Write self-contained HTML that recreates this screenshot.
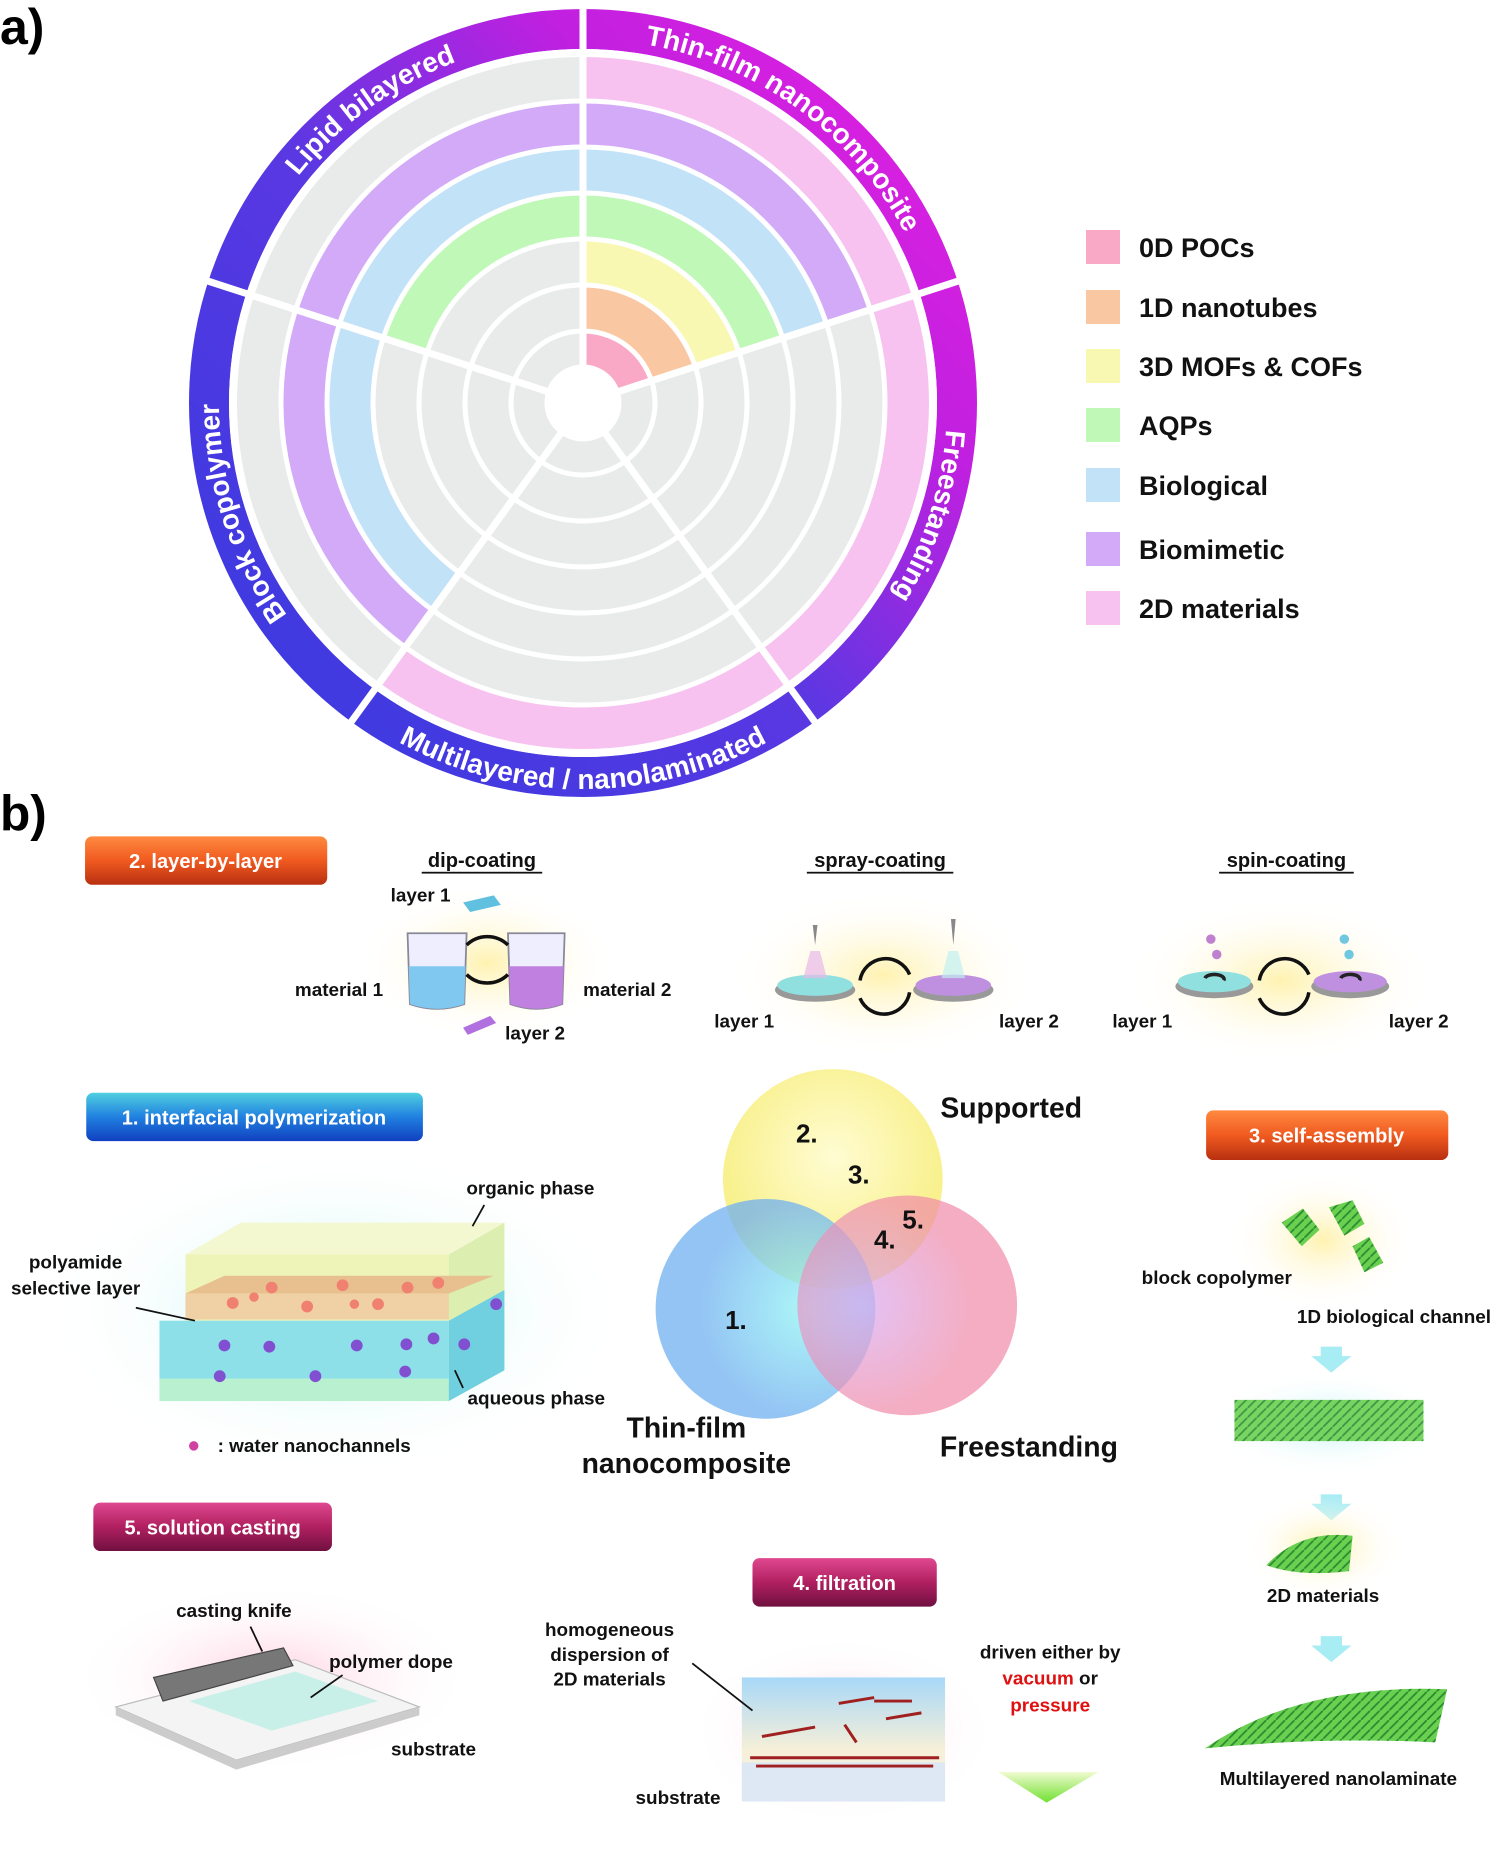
<!DOCTYPE html>
<html><head><meta charset="utf-8"><style>
html,body{margin:0;padding:0;background:#fff}
svg{display:block}
text{font-family:"Liberation Sans",sans-serif;font-weight:bold}
</style></head><body>
<svg width="1500" height="1851" viewBox="0 0 1500 1851" xmlns="http://www.w3.org/2000/svg">
<defs>
<linearGradient id="band" gradientUnits="userSpaceOnUse" x1="250" y1="720" x2="930" y2="90">
<stop offset="0" stop-color="#3a3ae0"/><stop offset="0.45" stop-color="#5a38e2"/><stop offset="0.75" stop-color="#c020e0"/><stop offset="1" stop-color="#e020e0"/></linearGradient>
<path id="cw" d="M583,39 A364,364 0 1,1 583,767 A364,364 0 1,1 583,39"/>
<path id="ccw" d="M197,403 A386,386 0 0,0 969,403"/>
<linearGradient id="og" x1="0" y1="0" x2="0" y2="1"><stop offset="0" stop-color="#ff8a40"/><stop offset="0.5" stop-color="#f05a20"/><stop offset="1" stop-color="#b83010"/></linearGradient>
<linearGradient id="bg" x1="0" y1="0" x2="0" y2="1"><stop offset="0" stop-color="#50d0e0"/><stop offset="0.5" stop-color="#2080e0"/><stop offset="1" stop-color="#1040c0"/></linearGradient>
<linearGradient id="pg" x1="0" y1="0" x2="0" y2="1"><stop offset="0" stop-color="#e04890"/><stop offset="0.5" stop-color="#b02060"/><stop offset="1" stop-color="#701040"/></linearGradient>
<radialGradient id="glowY"><stop offset="0" stop-color="#fff2b0"/><stop offset="1" stop-color="#fff" stop-opacity="0"/></radialGradient>
<radialGradient id="glowC"><stop offset="0" stop-color="#c8f4f4"/><stop offset="1" stop-color="#fff" stop-opacity="0"/></radialGradient>
<radialGradient id="glowP"><stop offset="0" stop-color="#ffd0e0"/><stop offset="1" stop-color="#fff" stop-opacity="0"/></radialGradient>
<radialGradient id="vy" cx="0.5" cy="0.4"><stop offset="0" stop-color="#fffcd0"/><stop offset="1" stop-color="#f8f088"/></radialGradient>
<radialGradient id="vb" cx="0.7" cy="0.5"><stop offset="0" stop-color="#90f4f4"/><stop offset="1" stop-color="#70b0f0"/></radialGradient>
<radialGradient id="vp" cx="0.3" cy="0.5"><stop offset="0" stop-color="#d8a8f0"/><stop offset="1" stop-color="#f08aa8"/></radialGradient>
<linearGradient id="filt" x1="0" y1="0" x2="0" y2="1"><stop offset="0" stop-color="#a8d8f8"/><stop offset="0.6" stop-color="#f8f0d8"/><stop offset="1" stop-color="#e0eef8"/></linearGradient>
<linearGradient id="garr" x1="0" y1="0" x2="0" y2="1"><stop offset="0" stop-color="#f0fbd0"/><stop offset="1" stop-color="#70e030"/></linearGradient>
<pattern id="leaf" width="8" height="8" patternUnits="userSpaceOnUse"><rect width="8" height="8" fill="#6ad050"/><path d="M0,8 L8,0" stroke="#2a8a30" stroke-width="1.5"/></pattern>
</defs>
<rect width="1500" height="1851" fill="#fff"/>

<!-- PART A -->
<text x="0" y="44" font-size="50">a)</text>
<circle cx="583" cy="403" r="374" fill="none" stroke="url(#band)" stroke-width="40"/>
<circle cx="583" cy="403" r="192" fill="none" stroke="#e9ebeb" stroke-width="312"/>
<g fill="none" transform="translate(583,403)">
<circle r="54" stroke="#f9a8c6" stroke-width="36" stroke-dasharray="67.86 9999" transform="rotate(-90)"/>
<circle r="95" stroke="#f9c8a2" stroke-width="46" stroke-dasharray="119.38 9999" transform="rotate(-90)"/>
<circle r="141" stroke="#f8f8b2" stroke-width="46" stroke-dasharray="177.19 9999" transform="rotate(-90)"/>
<circle r="187" stroke="#c0f8b8" stroke-width="46" stroke-dasharray="469.98 9999" transform="rotate(198)"/>
<circle r="233" stroke="#c2e2f8" stroke-width="46" stroke-dasharray="878.39 9999" transform="rotate(126)"/>
<circle r="279" stroke="#d2aaf8" stroke-width="46" stroke-dasharray="1051.8 9999" transform="rotate(126)"/>
<circle r="325" stroke="#f8c2f0" stroke-width="46" stroke-dasharray="1225.2 9999" transform="rotate(-90)"/>
<g stroke="#fff" stroke-width="5">
<circle r="36" fill="#fff"/><circle r="72"/><circle r="118"/><circle r="164"/><circle r="210"/><circle r="256"/><circle r="302"/><circle r="350" stroke-width="8"/>
</g>
</g>
<g stroke="#fff" stroke-width="7">
<line x1="583" y1="367" x2="583" y2="0"/>
<line x1="617.2" y1="391.9" x2="966" y2="278.5"/>
<line x1="604.2" y1="432.1" x2="820" y2="729"/>
<line x1="561.8" y1="432.1" x2="346" y2="729"/>
<line x1="548.8" y1="391.9" x2="200" y2="278.5"/>
</g>
<g fill="#fff" font-size="28">
<text><textPath href="#cw" startOffset="228.7" text-anchor="middle">Thin-film nanocomposite</textPath></text>
<text><textPath href="#cw" startOffset="686" text-anchor="middle">Freestanding</textPath></text>
<text><textPath href="#cw" startOffset="1601" text-anchor="middle">Block copolymer</textPath></text>
<text><textPath href="#cw" startOffset="2058" text-anchor="middle">Lipid bilayered</textPath></text>
<text><textPath href="#ccw" startOffset="50%" text-anchor="middle">Multilayered / nanolaminated</textPath></text>
</g>
<g font-size="27" fill="#111">
<rect x="1086" y="230" width="34" height="34" fill="#f9a8c6"/><text x="1139" y="257">0D POCs</text>
<rect x="1086" y="290" width="34" height="34" fill="#f9c8a2"/><text x="1139" y="317">1D nanotubes</text>
<rect x="1086" y="349" width="34" height="34" fill="#f8f8b2"/><text x="1139" y="376">3D MOFs &amp; COFs</text>
<rect x="1086" y="408" width="34" height="34" fill="#c0f8b8"/><text x="1139" y="435">AQPs</text>
<rect x="1086" y="468" width="34" height="34" fill="#c2e2f8"/><text x="1139" y="495">Biological</text>
<rect x="1086" y="532" width="34" height="34" fill="#d2aaf8"/><text x="1139" y="559">Biomimetic</text>
<rect x="1086" y="591" width="34" height="34" fill="#f8c2f0"/><text x="1139" y="618">2D materials</text>
</g>

<!-- PART B (display coords) -->
<g transform="scale(1.1813)">
<text x="0" y="703" font-size="42">b)</text>

<rect x="72" y="708" width="205" height="41" rx="6" fill="url(#og)"/>
<text x="174" y="735" font-size="17" fill="#fff" text-anchor="middle">2. layer-by-layer</text>
<rect x="73" y="925" width="285" height="41" rx="6" fill="url(#bg)"/>
<text x="215" y="952" font-size="17" fill="#fff" text-anchor="middle">1. interfacial polymerization</text>
<rect x="1021" y="940" width="205" height="42" rx="6" fill="url(#og)"/>
<text x="1123" y="967" font-size="17" fill="#fff" text-anchor="middle">3. self-assembly</text>
<rect x="79" y="1272" width="202" height="41" rx="6" fill="url(#pg)"/>
<text x="180" y="1299" font-size="17" fill="#fff" text-anchor="middle">5. solution casting</text>
<rect x="637" y="1319" width="156" height="41" rx="6" fill="url(#pg)"/>
<text x="715" y="1346" font-size="17" fill="#fff" text-anchor="middle">4. filtration</text>

<g font-size="17" fill="#111" text-anchor="middle">
<text x="408" y="734">dip-coating</text>
<text x="745" y="734">spray-coating</text>
<text x="1089" y="734">spin-coating</text>
</g>
<rect x="357" y="738" width="102" height="1.5" fill="#111"/>
<rect x="683" y="738" width="124" height="1.5" fill="#111"/>
<rect x="1032" y="738" width="114" height="1.5" fill="#111"/>

<!-- dip coating -->
<ellipse cx="412" cy="815" rx="110" ry="65" fill="url(#glowY)"/>
<path d="M345,790 L347,850 Q370,858 393,850 L395,790 Z" fill="#eef" stroke="#889" stroke-width="1.5"/>
<path d="M346,818 L347,850 Q370,858 393,850 L394,818 Z" fill="#80c8f0"/>
<path d="M430,790 L432,850 Q455,858 476,850 L478,790 Z" fill="#eef" stroke="#889" stroke-width="1.5"/>
<path d="M431,818 L432,850 Q455,858 476,850 L477,818 Z" fill="#c080e0"/>
<path d="M395,800 A25,25 0 0,1 430,800 M430,825 A25,25 0 0,1 395,825" fill="none" stroke="#111" stroke-width="3"/>
<path d="M392,764 L418,758 L424,766 L398,772Z" fill="#60c0e0"/>
<path d="M392,870 L415,860 L420,866 L396,876Z" fill="#b070e0"/>
<g font-size="16" fill="#111">
<text x="356" y="763" text-anchor="middle">layer 1</text>
<text x="287" y="843" text-anchor="middle">material 1</text>
<text x="531" y="843" text-anchor="middle">material 2</text>
<text x="453" y="880" text-anchor="middle">layer 2</text>
</g>

<!-- spray coating -->
<ellipse cx="748" cy="825" rx="130" ry="70" fill="url(#glowY)"/>
<ellipse cx="690" cy="838" rx="34" ry="10" fill="#999"/><ellipse cx="690" cy="834" rx="32" ry="9" fill="#90e0e0"/>
<ellipse cx="807" cy="838" rx="34" ry="10" fill="#999"/><ellipse cx="807" cy="834" rx="32" ry="9" fill="#c090e0"/>
<path d="M688,783 L692,783 L690,800Z M805,778 L809,778 L807,800Z" fill="#888"/>
<path d="M686,805 L694,805 L700,828 L680,828Z" fill="#e8b8e8" opacity="0.7"/>
<path d="M803,805 L811,805 L817,828 L797,828Z" fill="#c0f0f0" opacity="0.7"/>
<path d="M728,830 A22,22 0 0,1 770,825 M770,840 A22,22 0 0,1 728,845" fill="none" stroke="#111" stroke-width="3"/>
<g font-size="16" fill="#111" text-anchor="middle">
<text x="630" y="870">layer 1</text><text x="871" y="870">layer 2</text>
</g>

<!-- spin coating -->
<ellipse cx="1085" cy="830" rx="130" ry="70" fill="url(#glowY)"/>
<ellipse cx="1028" cy="835" rx="33" ry="10" fill="#999"/><ellipse cx="1028" cy="831" rx="31" ry="9" fill="#90e0e0"/>
<ellipse cx="1143" cy="835" rx="33" ry="10" fill="#999"/><ellipse cx="1143" cy="831" rx="31" ry="9" fill="#c090e0"/>
<path d="M1020,828 A8,4 0 1,1 1036,830" fill="none" stroke="#222" stroke-width="3"/>
<path d="M1135,828 A8,4 0 1,1 1151,830" fill="none" stroke="#222" stroke-width="3"/>
<circle cx="1025" cy="795" r="4" fill="#c080d0"/><circle cx="1030" cy="808" r="4" fill="#c080d0"/>
<circle cx="1138" cy="795" r="4" fill="#70c8e0"/><circle cx="1142" cy="808" r="4" fill="#70c8e0"/>
<path d="M1066,830 A22,22 0 0,1 1108,825 M1108,840 A22,22 0 0,1 1066,845" fill="none" stroke="#111" stroke-width="3"/>
<g font-size="16" fill="#111" text-anchor="middle">
<text x="967" y="870">layer 1</text><text x="1201" y="870">layer 2</text>
</g>

<!-- interfacial polymerization -->
<ellipse cx="285" cy="1110" rx="250" ry="140" fill="url(#glowC)"/>
<path d="M157,1062 L380,1062 L427,1035 L204,1035Z" fill="#f4f8d0"/>
<rect x="157" y="1062" width="223" height="124" fill="#eef4b8"/>
<path d="M380,1062 L427,1035 L427,1160 L380,1186Z" fill="#dcefb0"/>
<rect x="157" y="1095" width="223" height="22" fill="#f0c8a0" opacity="0.8"/>
<path d="M157,1095 L190,1080 L418,1080 L380,1095Z" fill="#e8c090"/>
<rect x="135" y="1118" width="245" height="68" fill="#8ee0e8"/>
<rect x="135" y="1167" width="245" height="19" fill="#b8f0d0"/>
<path d="M380,1118 L427,1092 L427,1160 L380,1186Z" fill="#70d0e0"/>
<g fill="#f08070"><circle cx="197" cy="1103" r="5"/><circle cx="230" cy="1090" r="5"/><circle cx="260" cy="1106" r="5"/><circle cx="290" cy="1088" r="5"/><circle cx="320" cy="1104" r="5"/><circle cx="345" cy="1090" r="5"/><circle cx="371" cy="1086" r="5"/><circle cx="300" cy="1104" r="4"/><circle cx="215" cy="1098" r="4"/></g>
<g fill="#8050d0"><circle cx="190" cy="1139" r="5"/><circle cx="228" cy="1140" r="5"/><circle cx="186" cy="1165" r="5"/><circle cx="267" cy="1165" r="5"/><circle cx="302" cy="1139" r="5"/><circle cx="344" cy="1138" r="5"/><circle cx="343" cy="1161" r="5"/><circle cx="367" cy="1133" r="5"/><circle cx="393" cy="1138" r="5"/><circle cx="420" cy="1104" r="5"/></g>
<line x1="115" y1="1107" x2="165" y2="1118" stroke="#111" stroke-width="1.5"/>
<line x1="400" y1="1038" x2="410" y2="1020" stroke="#111" stroke-width="1.5"/>
<line x1="385" y1="1160" x2="392" y2="1175" stroke="#111" stroke-width="1.5"/>
<g font-size="16" fill="#111" text-anchor="middle">
<text x="449" y="1011">organic phase</text>
<text x="64" y="1074">polyamide</text><text x="64" y="1096">selective layer</text>
<text x="454" y="1189">aqueous phase</text>
<text x="266" y="1229">: water nanochannels</text>
</g>
<circle cx="164" cy="1224" r="4" fill="#d040a0"/>

<!-- Venn -->
<circle cx="705" cy="998" r="93" fill="url(#vy)" opacity="0.95"/>
<circle cx="648" cy="1108" r="93" fill="url(#vb)" opacity="0.75"/>
<circle cx="768" cy="1105" r="93" fill="url(#vp)" opacity="0.7"/>
<g font-size="22" fill="#111" text-anchor="middle">
<text x="683" y="967">2.</text><text x="727" y="1002">3.</text><text x="749" y="1057">4.</text><text x="773" y="1040">5.</text><text x="623" y="1125">1.</text>
</g>
<g font-size="24" fill="#111" text-anchor="middle">
<text x="856" y="946">Supported</text>
<text x="581" y="1217">Thin-film</text><text x="581" y="1247">nanocomposite</text>
<text x="871" y="1233">Freestanding</text>
</g>

<!-- self assembly -->
<ellipse cx="1120" cy="1050" rx="80" ry="60" fill="url(#glowY)"/>
<g fill="url(#leaf)"><path d="M1085,1035 l18,-12 l14,18 l-15,14Z"/><path d="M1125,1022 l20,-6 l10,20 l-17,10Z"/><path d="M1145,1055 l14,-8 l12,22 l-16,8Z"/></g>
<ellipse cx="1125" cy="1205" rx="100" ry="45" fill="url(#glowC)"/>
<path d="M1045,1185 h160 v35 h-160Z" fill="url(#leaf)" opacity="0.9"/>
<path d="M1118,1140 h18 v8 h8 l-17,14 l-17,-14 h8Z" fill="#a8ecf4"/>
<path d="M1118,1265 h18 v8 h8 l-17,14 l-17,-14 h8Z" fill="#a8ecf4"/>
<path d="M1118,1385 h18 v8 h8 l-17,14 l-17,-14 h8Z" fill="#a8ecf4"/>
<ellipse cx="1120" cy="1310" rx="70" ry="45" fill="url(#glowY)"/>
<path d="M1072,1325 Q1100,1295 1145,1300 L1142,1330 Q1100,1335 1072,1325Z" fill="url(#leaf)"/>
<path d="M1020,1480 Q1100,1425 1225,1430 L1215,1475 Q1120,1470 1020,1480Z" fill="url(#leaf)"/>
<g font-size="16" fill="#111" text-anchor="middle">
<text x="1030" y="1087">block copolymer</text>
<text x="1180" y="1120">1D biological channel</text>
<text x="1120" y="1356">2D materials</text>
<text x="1133" y="1511">Multilayered nanolaminate</text>
</g>

<!-- solution casting -->
<ellipse cx="230" cy="1420" rx="170" ry="80" fill="url(#glowP)"/>
<path d="M98,1445 L250,1405 L355,1445 L200,1490Z" fill="#f4f4f4" stroke="#bbb"/>
<path d="M98,1445 L200,1490 L355,1445 L355,1452 L200,1498 L98,1452Z" fill="#ccc"/>
<path d="M160,1440 L250,1415 L320,1440 L230,1465Z" fill="#c8f0e8"/>
<path d="M130,1420 L240,1395 L248,1410 L138,1440Z" fill="#777" stroke="#444"/>
<line x1="212" y1="1377" x2="222" y2="1398" stroke="#111" stroke-width="1.5"/>
<line x1="263" y1="1437" x2="290" y2="1418" stroke="#111" stroke-width="1.5"/>
<g font-size="16" fill="#111" text-anchor="middle">
<text x="198" y="1369">casting knife</text>
<text x="331" y="1412">polymer dope</text>
<text x="367" y="1486">substrate</text>
</g>

<!-- filtration -->
<ellipse cx="714" cy="1465" rx="130" ry="80" fill="url(#glowP)"/>
<rect x="628" y="1420" width="172" height="105" fill="url(#filt)"/>
<rect x="628" y="1492" width="172" height="33" fill="#dde8f4"/>
<g stroke="#a02020" stroke-width="2.5">
<line x1="645" y1="1470" x2="690" y2="1462"/><line x1="710" y1="1442" x2="740" y2="1437"/><line x1="715" y1="1460" x2="725" y2="1475"/><line x1="750" y1="1455" x2="780" y2="1450"/><line x1="740" y1="1440" x2="772" y2="1440"/>
<line x1="635" y1="1488" x2="795" y2="1488"/><line x1="640" y1="1495" x2="790" y2="1495"/>
</g>
<path d="M845,1500 H930 L886,1526Z" fill="url(#garr)"/>
<line x1="586" y1="1408" x2="637" y2="1448" stroke="#111" stroke-width="1.5"/>
<g font-size="16" fill="#111" text-anchor="middle">
<text x="516" y="1385">homogeneous</text><text x="516" y="1406">dispersion of</text><text x="516" y="1427">2D materials</text>
<text x="889" y="1404">driven either by</text>
<text x="889" y="1426"><tspan fill="#e01010">vacuum</tspan> or</text>
<text x="889" y="1449" fill="#e01010">pressure</text>
<text x="574" y="1527">substrate</text>
</g>
</g>
</svg>
</body></html>
